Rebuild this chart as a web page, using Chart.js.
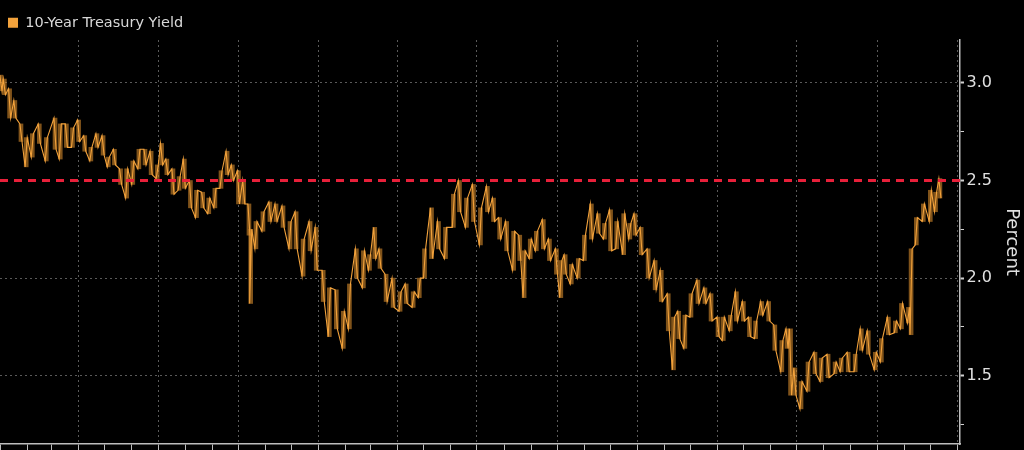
<!DOCTYPE html>
<html><head><meta charset="utf-8">
<script src="https://cdn.jsdelivr.net/npm/chart.js@4.4.1/dist/chart.umd.min.js"></script>
<style>html,body{margin:0;padding:0;background:#000;}#wrap{width:1024px;height:450px;position:relative;}</style>
</head><body><div id="wrap"><canvas id="c" width="1024" height="450"></canvas></div>
<script>
const seriesName = '10-Year Treasury Yield';
const axisTitle = 'Percent';
const refLevel = 2.5;
const yTicks = [1.25, 1.5, 1.75, 2.0, 2.25, 2.5, 2.75, 3.0];

const dates = [
'2014-01-02','2014-01-06','2014-01-12','2014-01-18','2014-01-25','2014-01-31','2014-02-07','2014-02-15','2014-02-23','2014-03-05',
'2014-03-11','2014-03-18','2014-03-25','2014-04-01','2014-04-08','2014-04-15','2014-04-22','2014-04-29','2014-05-05','2014-05-12',
'2014-05-19','2014-05-26','2014-06-02','2014-06-09','2014-06-16','2014-06-23','2014-06-30','2014-07-05','2014-07-11','2014-07-18',
'2014-07-25','2014-07-31','2014-08-07','2014-08-14','2014-08-21','2014-08-28','2014-09-04','2014-09-11','2014-09-18','2014-09-24',
'2014-10-01','2014-10-07','2014-10-13','2014-10-15','2014-10-21','2014-10-29','2014-11-06','2014-11-13','2014-11-21','2014-11-29',
'2014-12-06','2014-12-14','2014-12-22','2014-12-29','2015-01-06','2015-01-13','2015-01-21','2015-01-29','2015-02-05','2015-02-13',
'2015-02-21','2015-02-28','2015-03-06','2015-03-12','2015-03-19','2015-03-27','2015-04-04','2015-04-11','2015-04-19','2015-04-26',
'2015-05-02','2015-05-10','2015-05-18','2015-05-26','2015-06-04','2015-06-11','2015-06-19','2015-06-27','2015-07-05','2015-07-13',
'2015-07-20','2015-07-27','2015-08-04','2015-08-12','2015-08-19','2015-08-24','2015-08-31','2015-09-07','2015-09-15','2015-09-22',
'2015-09-30','2015-10-05','2015-10-10','2015-10-17','2015-10-25','2015-11-01','2015-11-09','2015-11-17','2015-11-24','2015-12-01',
'2015-12-08','2015-12-16','2015-12-23','2015-12-29','2016-01-05','2016-01-13','2016-01-21','2016-01-28','2016-02-05','2016-02-11',
'2016-02-17','2016-02-24','2016-03-02','2016-03-10','2016-03-18','2016-03-25','2016-04-02','2016-04-08','2016-04-16','2016-04-23',
'2016-05-01','2016-05-08','2016-05-15','2016-05-22','2016-05-30','2016-06-06','2016-06-14','2016-06-20','2016-06-24','2016-06-29',
'2016-07-06','2016-07-14','2016-07-22','2016-07-29','2016-08-06','2016-08-14','2016-08-21','2016-08-29','2016-09-06','2016-09-13',
'2016-09-21','2016-09-29','2016-10-06','2016-10-14','2016-10-22','2016-10-29','2016-11-06','2016-11-09','2016-11-15','2016-11-23',
'2016-12-01','2016-12-07','2016-12-12'
];

const highs = [
3.04,3.02,2.97,2.91,2.79,2.72,2.74,2.79,2.72,2.82,
2.79,2.79,2.77,2.81,2.73,2.67,2.74,2.73,2.62,2.66,
2.56,2.56,2.60,2.66,2.66,2.65,2.58,2.69,2.61,2.56,
2.52,2.61,2.50,2.45,2.44,2.41,2.46,2.55,2.65,2.58,
2.55,2.50,2.38,2.25,2.29,2.34,2.39,2.38,2.37,2.29,
2.34,2.20,2.29,2.26,2.04,1.95,1.94,1.83,1.97,2.15,
2.14,2.12,2.26,2.15,2.02,2.00,1.93,1.97,1.93,2.00,
2.15,2.36,2.29,2.26,2.43,2.50,2.41,2.48,2.36,2.47,
2.41,2.31,2.29,2.24,2.22,2.14,2.20,2.24,2.30,2.20,
2.15,2.09,2.12,2.07,2.10,2.22,2.38,2.33,2.28,2.35,
2.29,2.33,2.28,2.33,2.26,2.15,2.09,2.04,1.92,1.80,
1.83,1.81,1.92,1.99,1.95,1.92,1.80,1.80,1.81,1.93,
1.88,1.80,1.78,1.88,1.88,1.76,1.68,1.74,1.74,1.54,
1.47,1.57,1.62,1.59,1.61,1.57,1.59,1.62,1.61,1.74,
1.73,1.62,1.69,1.80,1.78,1.87,1.85,2.15,2.31,2.38,
2.45,2.44,2.51
];

const lows = [
2.96,2.94,2.82,2.82,2.70,2.57,2.62,2.69,2.60,2.66,
2.61,2.67,2.67,2.70,2.65,2.60,2.67,2.63,2.57,2.58,
2.48,2.41,2.48,2.56,2.58,2.53,2.51,2.58,2.53,2.43,
2.45,2.46,2.36,2.31,2.36,2.33,2.36,2.46,2.53,2.50,
2.38,2.38,2.22,1.87,2.15,2.24,2.29,2.29,2.26,2.15,
2.15,2.01,2.14,2.04,1.88,1.70,1.74,1.64,1.74,2.00,
1.95,2.04,2.10,2.05,1.88,1.85,1.83,1.87,1.85,1.90,
2.00,2.10,2.15,2.10,2.26,2.34,2.26,2.29,2.17,2.34,
2.29,2.20,2.14,2.04,2.09,1.90,2.10,2.14,2.15,2.09,
2.02,1.90,2.02,1.97,2.00,2.09,2.20,2.23,2.20,2.14,
2.15,2.12,2.20,2.22,2.12,2.00,1.94,1.88,1.73,1.53,
1.69,1.64,1.80,1.87,1.87,1.78,1.70,1.68,1.73,1.78,
1.78,1.70,1.69,1.81,1.78,1.63,1.52,1.64,1.40,1.40,
1.33,1.42,1.51,1.47,1.49,1.51,1.52,1.52,1.52,1.63,
1.61,1.53,1.57,1.71,1.72,1.74,1.77,1.71,2.17,2.29,
2.29,2.34,2.41
];

const DAY = 86400000;
const origin = Date.UTC(2014, 0, 1);
function dayOf(s) {
  const p = s.split('-').map(Number);
  return (Date.UTC(p[0], p[1] - 1, p[2]) - origin) / DAY;
}

// High-low path: each period drawn as a stroke between its high and low
const path = [];
const ranges = [];
for (let i = 0; i < dates.length; i++) {
  const d = dayOf(dates[i]);
  const mid = (highs[i] + lows[i]) / 2;
  const nxt = i < dates.length - 1 ? (highs[i + 1] + lows[i + 1]) / 2 : mid;
  const up = nxt > mid;
  path.push({x: d - 1.2, y: up ? lows[i] : highs[i]});
  path.push({x: d + 1.2, y: up ? highs[i] : lows[i]});
  ranges.push({x: d, y: [lows[i], highs[i]]});
}

// Month-start ticks, quarter-start gridlines
const monthTicks = [];
for (let y = 2014; y <= 2017; y++) {
  for (let m = 0; m < 12; m++) {
    const v = (Date.UTC(y, m, 1) - origin) / DAY;
    if (v <= 1099) monthTicks.push({v: v, q: m % 3 === 0});
  }
}
const quarterSet = new Set(monthTicks.filter(t => t.q && t.v > 0).map(t => t.v));
const isMajor = (v) => Math.abs(v * 2 - Math.round(v * 2)) < 1e-6;

const FONT = "'DejaVu Sans', sans-serif";
const ORANGE = '#f2a23c';

new Chart(document.getElementById('c'), {
  data: {
    datasets: [
      {
        type: 'line',
        label: 'ref',
        data: [{x: 0, y: refLevel}, {x: 1099, y: refLevel}],
        borderColor: '#e8203a',
        borderWidth: 3,
        borderDash: [8, 6],
        pointRadius: 0,
        order: 0
      },
      {
        type: 'line',
        label: seriesName,
        data: path,
        borderColor: ORANGE,
        backgroundColor: ORANGE,
        borderWidth: 1.1,
        pointRadius: 0,
        tension: 0,
        order: 1
      },
      {
        type: 'bar',
        label: 'range',
        data: ranges,
        backgroundColor: 'rgba(214,138,44,0.6)',
        borderWidth: 0,
        barThickness: 4,
        order: 2
      }
    ]
  },
  options: {
    responsive: false,
    animation: false,
    devicePixelRatio: 1,
    layout: {padding: {top: 7.5, left: 0, right: 0, bottom: 0}},
    plugins: {
      tooltip: {enabled: false},
      legend: {
        display: true,
        position: 'top',
        align: 'start',
        labels: {
          color: '#d8d8d8',
          font: {family: FONT, size: 14.5},
          boxWidth: 10,
          boxHeight: 10,
          padding: 8,
          generateLabels: () => [{
            text: seriesName, fillStyle: ORANGE, strokeStyle: ORANGE, lineWidth: 0, datasetIndex: 1, fontColor: '#d8d8d8'
          }]
        }
      }
    },
    scales: {
      x: {
        type: 'linear',
        min: 0,
        max: 1099,
        offset: false,
        afterBuildTicks: (scale) => { scale.ticks = monthTicks.map(t => ({value: t.v})); },
        ticks: {display: false},
        grid: {
          offset: false,
          color: (ctx) => (ctx.tick && quarterSet.has(ctx.tick.value)) ? '#5a5a5a' : 'rgba(0,0,0,0)',
          lineWidth: 1,
          drawTicks: true,
          tickLength: 6,
          tickColor: '#bdbdbd',
          tickBorderDash: [],
          tickWidth: 1
        },
        border: {display: true, color: '#bdbdbd', width: 1.5, dash: [2, 3]}
      },
      y: {
        position: 'right',
        min: 1.15,
        max: 3.22,
        afterBuildTicks: (scale) => { scale.ticks = yTicks.map(v => ({value: v})); },
        afterFit: (scale) => { scale.width = 64; },
        ticks: {
          color: '#e0e0e0',
          font: {family: FONT, size: 16, lineHeight: 0.4},
          padding: 2.5,
          callback: (v) => isMajor(v) ? v.toFixed(1) : ''
        },
        title: {
          display: true,
          text: axisTitle,
          color: '#e0e0e0',
          font: {family: FONT, size: 18},
          padding: {top: 2, bottom: 2}
        },
        grid: {
          color: (ctx) => (ctx.tick && isMajor(ctx.tick.value) && ctx.tick.value !== refLevel) ? '#5a5a5a' : 'rgba(0,0,0,0)',
          lineWidth: 1,
          drawTicks: true,
          tickLength: 4,
          tickColor: '#d0d0d0',
          tickBorderDash: [],
          tickWidth: (ctx) => (ctx.tick && isMajor(ctx.tick.value)) ? 2 : 1
        },
        border: {display: true, color: '#bdbdbd', width: 1.5, dash: [2, 3]}
      }
    }
  }
});
</script>
</body></html>
